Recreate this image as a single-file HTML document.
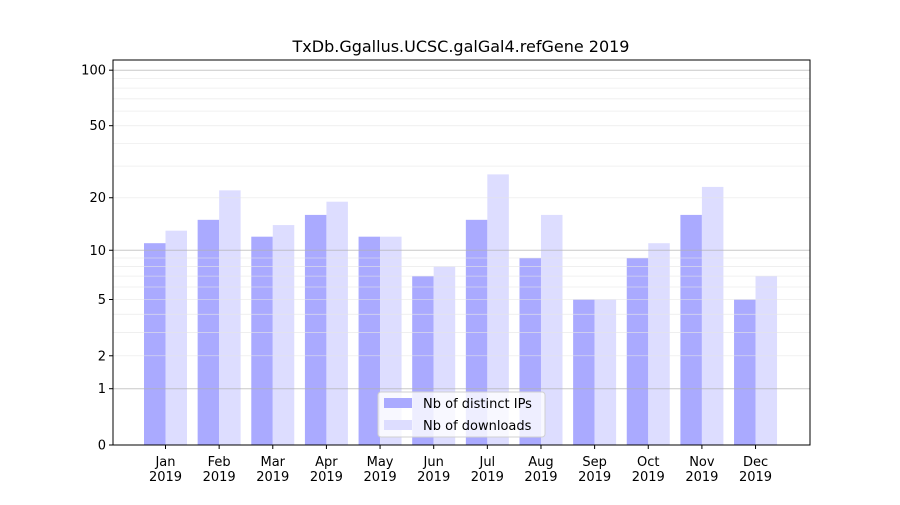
<!DOCTYPE html>
<html><head><meta charset="utf-8"><style>
body{margin:0;background:#fff;font-family:"Liberation Sans","DejaVu Sans",sans-serif}
svg text{font-family:"DejaVu Sans","Liberation Sans",sans-serif}
</style></head><body>
<svg id="c" width="900" height="500" xmlns="http://www.w3.org/2000/svg"></svg>
<script>
const months=["Jan","Feb","Mar","Apr","May","Jun","Jul","Aug","Sep","Oct","Nov","Dec"];
const ipValues=[11,15,12,16,12,7,15,9,5,9,16,5];
const downloadValues=[13,22,14,19,12,8,27,16,5,11,23,7];
const yTicks=[0,1,2,5,10,20,50,100];
const NS="http://www.w3.org/2000/svg";
const svg=document.getElementById('c');
const L=113,R=810,T=60,B=445;
function y(v){return B-187*Math.log10(1+v);}
function x(i){return 165.5+i*53.64;}
function el(t,a,p){const e=document.createElementNS(NS,t);for(const k in a)e.setAttribute(k,a[k]);(p||svg).appendChild(e);return e;}
// bars
const bw=21.5;
months.forEach((m,i)=>{
 const b1=el('rect',{x:x(i)-bw,y:y(ipValues[i]),width:bw,height:B-y(ipValues[i]),fill:'#aaaaff'});
 
 const b2=el('rect',{x:x(i),y:y(downloadValues[i]),width:bw,height:B-y(downloadValues[i]),fill:'#ddddff'});
 
 el('line',{x1:x(i),x2:x(i),y1:B,y2:B+4,stroke:'#000'});
 const t=el('text',{x:x(i),y:B+21,'font-size':13,'text-anchor':'middle'});t.textContent=m;
 
 const t2=el('text',{x:x(i),y:B+36,'font-size':13,'text-anchor':'middle'});t2.textContent='2019';
 
});
// grid (above bars, like matplotlib default)
const minor=[];for(let d=1;d<=100;d*=10)for(let m=2;m<=9;m++)if(d*m<113)minor.push(d*m);
minor.forEach(v=>{const g=el('line',{x1:L,x2:R,y1:y(v),y2:y(v),stroke:'#e6e6e6','stroke-width':0.8,'stroke-opacity':0.7});});
[1,10,100].forEach(v=>{const g=el('line',{x1:L,x2:R,y1:y(v),y2:y(v),stroke:'#b0b0b0','stroke-width':1,'stroke-opacity':0.7});});
yTicks.forEach(v=>{
 el('line',{x1:L-4,x2:L,y1:y(v),y2:y(v),stroke:'#000'});
 const t=el('text',{x:L-7,y:y(v)+4.5,'font-size':13,'text-anchor':'end'});t.textContent=v;
 
});
const ax=el('rect',{x:L,y:T,width:R-L,height:B-T,fill:'none',stroke:'#000','stroke-width':1});

const ti=el('text',{x:461,y:52,'font-size':16,'text-anchor':'middle'});ti.textContent='TxDb.Ggallus.UCSC.galGal4.refGene 2019';

// legend
const lg=el('g',{});
el('rect',{x:378,y:392,width:167,height:45,rx:3,fill:'#fff','fill-opacity':0.8,stroke:'#d0d0d0'},lg);
el('rect',{x:384,y:398,width:28,height:10,fill:'#aaaaff'},lg);
el('rect',{x:384,y:420,width:28,height:10,fill:'#ddddff'},lg);
const l1=el('text',{x:423,y:408,'font-size':13},lg);l1.textContent='Nb of distinct IPs';

const l2=el('text',{x:423,y:430,'font-size':13},lg);l2.textContent='Nb of downloads';

</script>
</body></html>
